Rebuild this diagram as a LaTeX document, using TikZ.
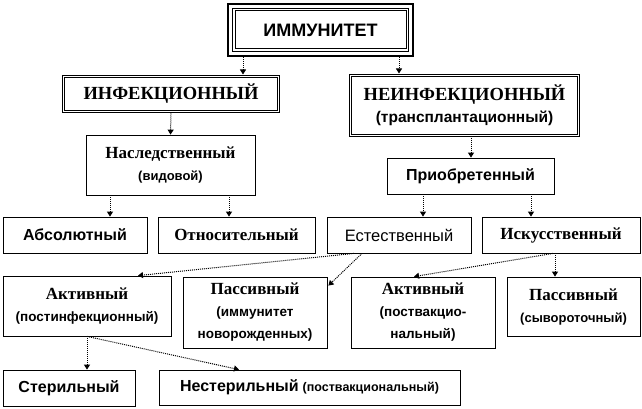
\documentclass[tikz,border=0pt]{standalone}
\usepackage{fontspec}
\setmainfont{Liberation Serif}
\setsansfont{Liberation Sans}
\usetikzlibrary{arrows.meta,calc}
\newcommand\SerB[1]{{\rmfamily\bfseries\fontsize{17}{22}\selectfont #1}}
\newcommand\SanB[1]{{\sffamily\bfseries\fontsize{16}{22}\selectfont #1}}
\newcommand\SanS[1]{{\sffamily\bfseries\fontsize{13.5}{22}\selectfont #1}}
\begin{document}
\begin{tikzpicture}[x=1pt,y=-1pt,
  box/.style={draw, line width=0.8pt, inner sep=0pt, align=center, anchor=center,
    font=\fontsize{16}{22}\selectfont},
  dbl/.style={box, double, double distance=1.6pt, line width=0.8pt},
  conn/.style={densely dotted, line width=1pt, -{Triangle[length=5pt,width=6pt]}}
]
\useasboundingbox (0,0) rectangle (642,409);

% top
\node[inner sep=0pt, minimum width=187pt, minimum height=54pt] (imm) at (320.5,30)
  {\sffamily\bfseries\fontsize{18}{20}\selectfont ИММУНИТЕТ};
\draw[line width=2.5pt] ([shift={(1.25,1.25)}]imm.north west) rectangle ([shift={(-1.25,-1.25)}]imm.south east);
\draw[line width=1pt] ([shift={(5.5,5.5)}]imm.north west) rectangle ([shift={(-5.5,-5.5)}]imm.south east);
\draw[line width=1pt] ([shift={(8.2,8.2)}]imm.north west) rectangle ([shift={(-8.2,-8.2)}]imm.south east);

\node[dbl, minimum width=215pt, minimum height=35pt] (inf) at (171,94)
  {\rmfamily\bfseries\fontsize{18.5}{22}\selectfont ИНФЕКЦИОННЫЙ};
\node[dbl, minimum width=228pt, minimum height=60pt] (neinf) at (464.5,105.5)
  {{\rmfamily\bfseries\fontsize{18.5}{26}\selectfont НЕИНФЕКЦИОННЫЙ}\\
   {\sffamily\bfseries\fontsize{15.5}{26}\selectfont (трансплантационный)}};

\node[box, minimum width=169pt, minimum height=60pt] (nasl) at (170.5,165)
  {\SerB{Наследственный}\\ {\sffamily\bfseries\fontsize{13}{22}\selectfont (видовой)}};
\node[box, minimum width=167pt, minimum height=36pt] (priob) at (470.5,176)
  {\SanB{Приобретенный}};

% row 3
\node[box, minimum width=144pt, minimum height=36pt] (abs) at (75,235) {\SanB{Абсолютный}};
\node[box, minimum width=157pt, minimum height=36pt] (otn) at (236.5,235) {\SerB{Относительный}};
\node[box, minimum width=144pt, minimum height=36pt] (est) at (399,235)
  {{\sffamily\fontsize{16.5}{22}\selectfont Естественный}};
\node[box, minimum width=158pt, minimum height=36pt] (isk) at (561,235) {\SerB{Искусственный}};

% row 4
\node[box, minimum width=168pt, minimum height=60pt] (akt1) at (87,306)
  {\SerB{Активный}\\ \SanS{(постинфекционный)}};
\node[box, minimum width=144pt, minimum height=71pt] (pas1) at (255,312.5)
  {\SerB{Пассивный}\\ \SanS{(иммунитет}\\ \SanS{новорожденных)}};
\node[box, minimum width=144pt, minimum height=71pt] (akt2) at (423,312.5)
  {\SerB{Активный}\\ \SanS{(поствакцио-}\\ \SanS{нальный)}};
\node[box, minimum width=133pt, minimum height=59pt] (pas2) at (573.5,306.5)
  {\SerB{Пассивный}\\ {\sffamily\bfseries\fontsize{13}{22}\selectfont (сывороточный)}};

% row 5
\node[box, minimum width=132pt, minimum height=36pt] (ster) at (69,388) {\SanB{Стерильный}};
\node[box, minimum width=301pt, minimum height=35pt] (nest) at (309.5,387.5)
  {\SanB{Нестерильный} {\sffamily\bfseries\fontsize{12.5}{22}\selectfont (поствакциональный)}};

% connectors
\draw[conn] ([xshift=-77.5pt]imm.south) -- ([xshift=72pt,yshift=1.6pt]inf.north);
\draw[conn] ([xshift=78.5pt]imm.south) -- ([xshift=-65.5pt,yshift=1.6pt]neinf.north);
\draw[conn] ([yshift=-1.6pt]inf.south) -- (nasl.north);
\draw[conn] ([xshift=6.5pt,yshift=-1.6pt]neinf.south) -- ([xshift=0.5pt]priob.north);
\draw[conn] ([xshift=-60.5pt]nasl.south) -- ([xshift=35pt]abs.north);
\draw[conn] ([xshift=58.5pt]nasl.south) -- ([xshift=-7.5pt]otn.north);
\draw[conn] ([xshift=-47.5pt]priob.south) -- ([xshift=24pt]est.north);
\draw[conn] ([xshift=60.5pt]priob.south) -- ([xshift=-30pt]isk.north);
\draw[conn] ([xshift=-45pt]est.south) -- ([xshift=51pt]akt1.north);
\draw[conn] ([xshift=-37pt]est.south) -- ([xshift=1pt,yshift=-9pt]pas1.north east);
\draw[conn] ([xshift=-8pt]isk.south) -- ([xshift=-9pt]akt2.north);
\draw[conn] ([xshift=-6pt]isk.south) -- ([xshift=-18.5pt]pas2.north);
\draw[conn] (akt1.south) -- ([xshift=18pt]ster.north);
\draw[conn] (akt1.south) -- ([xshift=-70.5pt]nest.north);
\end{tikzpicture}
\end{document}
